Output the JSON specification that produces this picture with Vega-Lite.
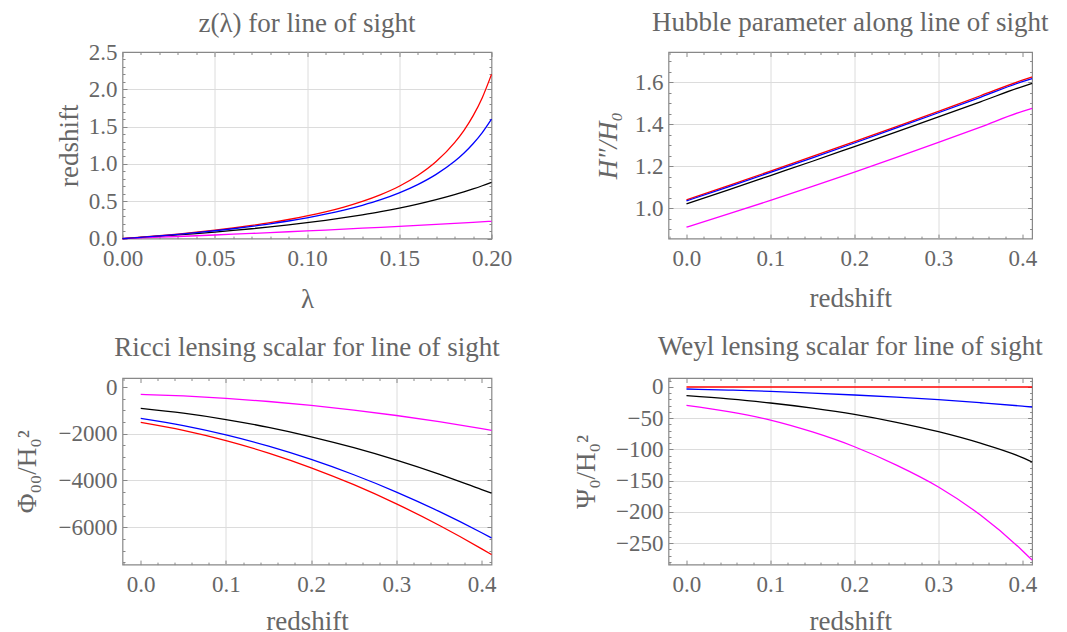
{
  "$schema": "https://vega.github.io/schema/vega-lite/v6.json",
  "background": "white",
  "padding": {"left": 12.5, "top": 8, "right": 10, "bottom": 6},
  "columns": 2,
  "spacing": {"row": 139, "column": 177},
  "bounds": "flush",
  "config": {
    "font": "Liberation Serif",
    "view": {"stroke": "#888888", "strokeWidth": 1.2},
    "axis": {
      "domain": false,
      "labelFont": "Liberation Serif",
      "labelFontSize": 23,
      "labelColor": "#666666",
      "labelFlush": false,
      "labelOverlap": false,
      "labelBound": false,
      "titleFont": "Liberation Serif",
      "titleFontSize": 27,
      "titleFontWeight": "normal",
      "titleColor": "#666666",
      "tickColor": "#888888",
      "tickWidth": 1,
      "gridWidth": 1
    },
    "title": {
      "font": "Liberation Serif",
      "fontSize": 27,
      "fontWeight": "normal",
      "color": "#666666",
      "anchor": "middle",
      "frame": "group",
      "baseline": "alphabetic",
      "offset": 21
    },
    "line": {"strokeWidth": 1.3, "interpolate": "monotone", "clip": true}
  },
  "datasets": {
    "zlambda": [
      {"series": "case 1", "lambda": 0, "z": 0}, {"series": "case 1", "lambda": 0.01, "z": 0.019}, {"series": "case 1", "lambda": 0.02, "z": 0.039}, {"series": "case 1", "lambda": 0.03, "z": 0.061}, {"series": "case 1", "lambda": 0.04, "z": 0.085}, {"series": "case 1", "lambda": 0.05, "z": 0.112}, {"series": "case 1", "lambda": 0.06, "z": 0.142}, {"series": "case 1", "lambda": 0.07, "z": 0.176}, {"series": "case 1", "lambda": 0.08, "z": 0.213}, {"series": "case 1", "lambda": 0.09, "z": 0.256}, {"series": "case 1", "lambda": 0.1, "z": 0.304}, {"series": "case 1", "lambda": 0.11, "z": 0.359}, {"series": "case 1", "lambda": 0.12, "z": 0.423}, {"series": "case 1", "lambda": 0.13, "z": 0.499}, {"series": "case 1", "lambda": 0.14, "z": 0.59}, {"series": "case 1", "lambda": 0.15, "z": 0.702}, {"series": "case 1", "lambda": 0.16, "z": 0.845}, {"series": "case 1", "lambda": 0.17, "z": 1.032}, {"series": "case 1", "lambda": 0.18, "z": 1.285}, {"series": "case 1", "lambda": 0.185, "z": 1.447}, {"series": "case 1", "lambda": 0.19, "z": 1.644}, {"series": "case 1", "lambda": 0.195, "z": 1.888}, {"series": "case 1", "lambda": 0.2, "z": 2.2},
      {"series": "case 2", "lambda": 0, "z": 0}, {"series": "case 2", "lambda": 0.01, "z": 0.0175}, {"series": "case 2", "lambda": 0.02, "z": 0.036}, {"series": "case 2", "lambda": 0.03, "z": 0.057}, {"series": "case 2", "lambda": 0.04, "z": 0.08}, {"series": "case 2", "lambda": 0.05, "z": 0.105}, {"series": "case 2", "lambda": 0.06, "z": 0.132}, {"series": "case 2", "lambda": 0.07, "z": 0.163}, {"series": "case 2", "lambda": 0.08, "z": 0.197}, {"series": "case 2", "lambda": 0.09, "z": 0.236}, {"series": "case 2", "lambda": 0.1, "z": 0.279}, {"series": "case 2", "lambda": 0.11, "z": 0.327}, {"series": "case 2", "lambda": 0.12, "z": 0.382}, {"series": "case 2", "lambda": 0.13, "z": 0.446}, {"series": "case 2", "lambda": 0.14, "z": 0.521}, {"series": "case 2", "lambda": 0.15, "z": 0.612}, {"series": "case 2", "lambda": 0.16, "z": 0.723}, {"series": "case 2", "lambda": 0.17, "z": 0.86}, {"series": "case 2", "lambda": 0.18, "z": 1.035}, {"series": "case 2", "lambda": 0.185, "z": 1.143}, {"series": "case 2", "lambda": 0.19, "z": 1.27}, {"series": "case 2", "lambda": 0.195, "z": 1.42}, {"series": "case 2", "lambda": 0.2, "z": 1.6},
      {"series": "case 3", "lambda": 0, "z": 0}, {"series": "case 3", "lambda": 0.01, "z": 0.0153}, {"series": "case 3", "lambda": 0.02, "z": 0.0317}, {"series": "case 3", "lambda": 0.03, "z": 0.049}, {"series": "case 3", "lambda": 0.04, "z": 0.0676}, {"series": "case 3", "lambda": 0.05, "z": 0.0875}, {"series": "case 3", "lambda": 0.06, "z": 0.109}, {"series": "case 3", "lambda": 0.07, "z": 0.132}, {"series": "case 3", "lambda": 0.08, "z": 0.157}, {"series": "case 3", "lambda": 0.09, "z": 0.184}, {"series": "case 3", "lambda": 0.1, "z": 0.213}, {"series": "case 3", "lambda": 0.11, "z": 0.245}, {"series": "case 3", "lambda": 0.12, "z": 0.28}, {"series": "case 3", "lambda": 0.13, "z": 0.319}, {"series": "case 3", "lambda": 0.14, "z": 0.361}, {"series": "case 3", "lambda": 0.15, "z": 0.408}, {"series": "case 3", "lambda": 0.16, "z": 0.461}, {"series": "case 3", "lambda": 0.17, "z": 0.521}, {"series": "case 3", "lambda": 0.18, "z": 0.588}, {"series": "case 3", "lambda": 0.185, "z": 0.625}, {"series": "case 3", "lambda": 0.19, "z": 0.665}, {"series": "case 3", "lambda": 0.195, "z": 0.708}, {"series": "case 3", "lambda": 0.2, "z": 0.754},
      {"series": "case 4", "lambda": 0, "z": 0}, {"series": "case 4", "lambda": 0.01, "z": 0.0091}, {"series": "case 4", "lambda": 0.02, "z": 0.0185}, {"series": "case 4", "lambda": 0.03, "z": 0.0282}, {"series": "case 4", "lambda": 0.04, "z": 0.0381}, {"series": "case 4", "lambda": 0.05, "z": 0.0483}, {"series": "case 4", "lambda": 0.06, "z": 0.0587}, {"series": "case 4", "lambda": 0.07, "z": 0.0694}, {"series": "case 4", "lambda": 0.08, "z": 0.0803}, {"series": "case 4", "lambda": 0.09, "z": 0.0915}, {"series": "case 4", "lambda": 0.1, "z": 0.103}, {"series": "case 4", "lambda": 0.11, "z": 0.1147}, {"series": "case 4", "lambda": 0.12, "z": 0.1267}, {"series": "case 4", "lambda": 0.13, "z": 0.139}, {"series": "case 4", "lambda": 0.14, "z": 0.1515}, {"series": "case 4", "lambda": 0.15, "z": 0.1643}, {"series": "case 4", "lambda": 0.16, "z": 0.1773}, {"series": "case 4", "lambda": 0.17, "z": 0.1906}, {"series": "case 4", "lambda": 0.18, "z": 0.2041}, {"series": "case 4", "lambda": 0.19, "z": 0.2179}, {"series": "case 4", "lambda": 0.2, "z": 0.232}
    ],
    "hubble": [
      {"series": "case 1", "redshift": 0, "H": 1.04}, {"series": "case 1", "redshift": 0.05, "H": 1.108}, {"series": "case 1", "redshift": 0.1, "H": 1.177}, {"series": "case 1", "redshift": 0.15, "H": 1.247}, {"series": "case 1", "redshift": 0.2, "H": 1.318}, {"series": "case 1", "redshift": 0.25, "H": 1.389}, {"series": "case 1", "redshift": 0.3, "H": 1.462}, {"series": "case 1", "redshift": 0.35, "H": 1.536}, {"series": "case 1", "redshift": 0.4, "H": 1.61}, {"series": "case 1", "redshift": 0.4115, "H": 1.625},
      {"series": "case 2", "redshift": 0, "H": 1.035}, {"series": "case 2", "redshift": 0.05, "H": 1.1025}, {"series": "case 2", "redshift": 0.1, "H": 1.171}, {"series": "case 2", "redshift": 0.15, "H": 1.2405}, {"series": "case 2", "redshift": 0.2, "H": 1.311}, {"series": "case 2", "redshift": 0.25, "H": 1.3825}, {"series": "case 2", "redshift": 0.3, "H": 1.455}, {"series": "case 2", "redshift": 0.35, "H": 1.5285}, {"series": "case 2", "redshift": 0.4, "H": 1.603}, {"series": "case 2", "redshift": 0.4115, "H": 1.617},
      {"series": "case 3", "redshift": 0, "H": 1.021}, {"series": "case 3", "redshift": 0.05, "H": 1.088}, {"series": "case 3", "redshift": 0.1, "H": 1.156}, {"series": "case 3", "redshift": 0.15, "H": 1.224}, {"series": "case 3", "redshift": 0.2, "H": 1.294}, {"series": "case 3", "redshift": 0.25, "H": 1.364}, {"series": "case 3", "redshift": 0.3, "H": 1.435}, {"series": "case 3", "redshift": 0.35, "H": 1.507}, {"series": "case 3", "redshift": 0.4, "H": 1.58}, {"series": "case 3", "redshift": 0.4115, "H": 1.595},
      {"series": "case 4", "redshift": 0, "H": 0.91}, {"series": "case 4", "redshift": 0.05, "H": 0.973}, {"series": "case 4", "redshift": 0.1, "H": 1.0375}, {"series": "case 4", "redshift": 0.15, "H": 1.104}, {"series": "case 4", "redshift": 0.2, "H": 1.172}, {"series": "case 4", "redshift": 0.25, "H": 1.242}, {"series": "case 4", "redshift": 0.3, "H": 1.3135}, {"series": "case 4", "redshift": 0.35, "H": 1.387}, {"series": "case 4", "redshift": 0.4, "H": 1.462}, {"series": "case 4", "redshift": 0.4115, "H": 1.476}
    ],
    "ricci": [
      {"series": "case 1", "redshift": 0, "Phi00": -1514}, {"series": "case 1", "redshift": 0.05, "Phi00": -1857}, {"series": "case 1", "redshift": 0.1, "Phi00": -2295}, {"series": "case 1", "redshift": 0.15, "Phi00": -2828}, {"series": "case 1", "redshift": 0.2, "Phi00": -3457}, {"series": "case 1", "redshift": 0.25, "Phi00": -4181}, {"series": "case 1", "redshift": 0.3, "Phi00": -5001}, {"series": "case 1", "redshift": 0.35, "Phi00": -5915}, {"series": "case 1", "redshift": 0.4, "Phi00": -6925}, {"series": "case 1", "redshift": 0.4115, "Phi00": -7171},
      {"series": "case 2", "redshift": 0, "Phi00": -1343}, {"series": "case 2", "redshift": 0.05, "Phi00": -1653}, {"series": "case 2", "redshift": 0.1, "Phi00": -2049}, {"series": "case 2", "redshift": 0.15, "Phi00": -2532}, {"series": "case 2", "redshift": 0.2, "Phi00": -3100}, {"series": "case 2", "redshift": 0.25, "Phi00": -3755}, {"series": "case 2", "redshift": 0.3, "Phi00": -4495}, {"series": "case 2", "redshift": 0.35, "Phi00": -5322}, {"series": "case 2", "redshift": 0.4, "Phi00": -6235}, {"series": "case 2", "redshift": 0.4115, "Phi00": -6457},
      {"series": "case 3", "redshift": 0, "Phi00": -914}, {"series": "case 3", "redshift": 0.05, "Phi00": -1120}, {"series": "case 3", "redshift": 0.1, "Phi00": -1391}, {"series": "case 3", "redshift": 0.15, "Phi00": -1727}, {"series": "case 3", "redshift": 0.2, "Phi00": -2129}, {"series": "case 3", "redshift": 0.25, "Phi00": -2596}, {"series": "case 3", "redshift": 0.3, "Phi00": -3128}, {"series": "case 3", "redshift": 0.35, "Phi00": -3726}, {"series": "case 3", "redshift": 0.4, "Phi00": -4389}, {"series": "case 3", "redshift": 0.4115, "Phi00": -4540},
      {"series": "case 4", "redshift": 0, "Phi00": -314}, {"series": "case 4", "redshift": 0.05, "Phi00": -383}, {"series": "case 4", "redshift": 0.1, "Phi00": -484}, {"series": "case 4", "redshift": 0.15, "Phi00": -619}, {"series": "case 4", "redshift": 0.2, "Phi00": -786}, {"series": "case 4", "redshift": 0.25, "Phi00": -986}, {"series": "case 4", "redshift": 0.3, "Phi00": -1219}, {"series": "case 4", "redshift": 0.35, "Phi00": -1485}, {"series": "case 4", "redshift": 0.4, "Phi00": -1784}, {"series": "case 4", "redshift": 0.4115, "Phi00": -1857}
    ],
    "weyl": [
      {"series": "case 1", "redshift": 0, "Psi0": 0}, {"series": "case 1", "redshift": 0.1, "Psi0": 0}, {"series": "case 1", "redshift": 0.2, "Psi0": 0}, {"series": "case 1", "redshift": 0.3, "Psi0": 0}, {"series": "case 1", "redshift": 0.4, "Psi0": 0}, {"series": "case 1", "redshift": 0.4115, "Psi0": 0},
      {"series": "case 2", "redshift": 0, "Psi0": -3.2}, {"series": "case 2", "redshift": 0.05, "Psi0": -4.9}, {"series": "case 2", "redshift": 0.1, "Psi0": -7}, {"series": "case 2", "redshift": 0.15, "Psi0": -9.7}, {"series": "case 2", "redshift": 0.2, "Psi0": -12.8}, {"series": "case 2", "redshift": 0.25, "Psi0": -16.3}, {"series": "case 2", "redshift": 0.3, "Psi0": -20.3}, {"series": "case 2", "redshift": 0.35, "Psi0": -25.2}, {"series": "case 2", "redshift": 0.4, "Psi0": -30.6}, {"series": "case 2", "redshift": 0.4115, "Psi0": -32},
      {"series": "case 3", "redshift": 0, "Psi0": -13.9}, {"series": "case 3", "redshift": 0.05, "Psi0": -19.1}, {"series": "case 3", "redshift": 0.1, "Psi0": -25.6}, {"series": "case 3", "redshift": 0.15, "Psi0": -33.8}, {"series": "case 3", "redshift": 0.2, "Psi0": -43.8}, {"series": "case 3", "redshift": 0.25, "Psi0": -56.5}, {"series": "case 3", "redshift": 0.3, "Psi0": -71.6}, {"series": "case 3", "redshift": 0.35, "Psi0": -90}, {"series": "case 3", "redshift": 0.4, "Psi0": -113}, {"series": "case 3", "redshift": 0.4115, "Psi0": -120},
      {"series": "case 4", "redshift": 0, "Psi0": -29.4}, {"series": "case 4", "redshift": 0.05, "Psi0": -39.5}, {"series": "case 4", "redshift": 0.1, "Psi0": -53}, {"series": "case 4", "redshift": 0.15, "Psi0": -72}, {"series": "case 4", "redshift": 0.2, "Psi0": -95.6}, {"series": "case 4", "redshift": 0.25, "Psi0": -125}, {"series": "case 4", "redshift": 0.3, "Psi0": -160}, {"series": "case 4", "redshift": 0.35, "Psi0": -205}, {"series": "case 4", "redshift": 0.4, "Psi0": -262}, {"series": "case 4", "redshift": 0.4115, "Psi0": -277}
    ]
  },
  "concat": [
    {
      "title": {"text": "z(λ) for line of sight", "offset": 3.5},
      "width": 369,
      "height": 186.6,
      "data": {"name": "zlambda"},
      "resolve": {"axis": {"x": "independent", "y": "independent"}},
      "layer": [
        {
          "transform": [{"filter": "datum.series === 'case 3' || datum.series === 'case 4'"}],
          "mark": "line",
          "encoding": {
            "x": {"field": "lambda", "type": "quantitative", "scale": {"domain": [0, 0.2], "nice": false, "zero": false},
              "axis": {"orient": "bottom", "values": [0, 0.01, 0.02, 0.03, 0.04, 0.05, 0.06, 0.07, 0.08, 0.09, 0.1, 0.11, 0.12, 0.13, 0.14, 0.15, 0.16, 0.17, 0.18, 0.19, 0.2],
                "tickSize": {"condition": {"test": "abs(datum.value*20-round(datum.value*20))<1e-6", "value": -4.5}, "value": -2.5},
                "labelExpr": "abs(datum.value*20-round(datum.value*20))<1e-6 ? format(datum.value, '.2f') : ''",
                "labelPadding": 13.5,
                "grid": true,
                "gridColor": {"condition": {"test": "abs(datum.value*20-round(datum.value*20))<1e-6 && datum.value>0.001 && datum.value<0.199", "value": "#dcdcdc"}, "value": "transparent"},
                "title": "λ", "titleY": 68.7, "titleBaseline": "alphabetic"}},
            "y": {"field": "z", "type": "quantitative", "scale": {"domain": [0, 2.5], "nice": false, "zero": false},
              "axis": {"orient": "left", "values": [0, 0.1, 0.2, 0.3, 0.4, 0.5, 0.6, 0.7, 0.8, 0.9, 1, 1.1, 1.2, 1.3, 1.4, 1.5, 1.6, 1.7, 1.8, 1.9, 2, 2.1, 2.2, 2.3, 2.4, 2.5],
                "tickSize": {"condition": {"test": "abs(datum.value*2-round(datum.value*2))<1e-6", "value": -4.5}, "value": -2.5},
                "labelExpr": "abs(datum.value*2-round(datum.value*2))<1e-6 ? format(datum.value, '.1f') : ''",
                "labelPadding": 10,
                "grid": true,
                "gridColor": {"condition": {"test": "abs(datum.value*2-round(datum.value*2))<1e-6 && datum.value>0.01 && datum.value<2.49", "value": "#dcdcdc"}, "value": "transparent"},
                "title": "redshift", "titleX": -45, "titleBaseline": "alphabetic"}},
            "color": {"field": "series", "type": "nominal", "scale": {"domain": ["case 1", "case 2", "case 3", "case 4"], "range": ["#ff0000", "#0000ff", "#000000", "#ff00ff"]}, "legend": null}
          }
        },
        {
          "transform": [{"filter": "datum.series === 'case 1' || datum.series === 'case 2'"}],
          "mark": "line",
          "encoding": {
            "x": {"field": "lambda", "type": "quantitative", "scale": {"domain": [0, 0.2], "nice": false, "zero": false},
              "axis": {"orient": "top", "values": [0, 0.01, 0.02, 0.03, 0.04, 0.05, 0.06, 0.07, 0.08, 0.09, 0.1, 0.11, 0.12, 0.13, 0.14, 0.15, 0.16, 0.17, 0.18, 0.19, 0.2],
                "tickSize": {"condition": {"test": "abs(datum.value*20-round(datum.value*20))<1e-6", "value": -4.5}, "value": -2.5},
                "labels": false, "grid": false, "title": null}},
            "y": {"field": "z", "type": "quantitative", "scale": {"domain": [0, 2.5], "nice": false, "zero": false},
              "axis": {"orient": "right", "values": [0, 0.1, 0.2, 0.3, 0.4, 0.5, 0.6, 0.7, 0.8, 0.9, 1, 1.1, 1.2, 1.3, 1.4, 1.5, 1.6, 1.7, 1.8, 1.9, 2, 2.1, 2.2, 2.3, 2.4, 2.5],
                "tickSize": {"condition": {"test": "abs(datum.value*2-round(datum.value*2))<1e-6", "value": -4.5}, "value": -2.5},
                "labels": false, "grid": false, "title": null}},
            "color": {"field": "series", "type": "nominal", "scale": {"domain": ["case 1", "case 2", "case 3", "case 4"], "range": ["#ff0000", "#0000ff", "#000000", "#ff00ff"]}, "legend": null}
          }
        }
      ]
    },
    {
      "title": {"text": "Hubble parameter along line of sight", "offset": 13},
      "width": 363.6,
      "height": 186.6,
      "data": {"name": "hubble"},
      "resolve": {"axis": {"x": "independent", "y": "independent"}},
      "layer": [
        {
          "transform": [{"filter": "datum.series === 'case 3' || datum.series === 'case 4'"}],
          "mark": "line",
          "encoding": {
            "x": {"field": "redshift", "type": "quantitative", "scale": {"domain": [-0.0214, 0.4115], "nice": false, "zero": false},
              "axis": {"orient": "bottom", "values": [-0.02, 0, 0.02, 0.04, 0.06, 0.08, 0.1, 0.12, 0.14, 0.16, 0.18, 0.2, 0.22, 0.24, 0.26, 0.28, 0.3, 0.32, 0.34, 0.36, 0.38, 0.4],
                "tickSize": {"condition": {"test": "abs(datum.value*10-round(datum.value*10))<1e-6", "value": -4.5}, "value": -2.5},
                "labelExpr": "abs(datum.value*10-round(datum.value*10))<1e-6 ? format(datum.value, '.1f') : ''",
                "labelPadding": 13.5,
                "grid": true,
                "gridColor": {"condition": {"test": "abs(datum.value*10-round(datum.value*10))<1e-6 && datum.value>0.05 && datum.value<0.35", "value": "#dcdcdc"}, "value": "transparent"},
                "title": "redshift", "titleY": 67.7, "titleBaseline": "alphabetic"}},
            "y": {"field": "H", "type": "quantitative", "scale": {"domain": [0.8556, 1.7444], "nice": false, "zero": false},
              "axis": {"orient": "left", "values": [0.9, 0.95, 1, 1.05, 1.1, 1.15, 1.2, 1.25, 1.3, 1.35, 1.4, 1.45, 1.5, 1.55, 1.6, 1.65, 1.7],
                "tickSize": {"condition": {"test": "abs(datum.value*5-round(datum.value*5))<1e-6", "value": -4.5}, "value": -2.5},
                "labelExpr": "abs(datum.value*5-round(datum.value*5))<1e-6 ? format(datum.value, '.1f') : ''",
                "labelPadding": 10,
                "grid": true,
                "gridColor": {"condition": {"test": "abs(datum.value*5-round(datum.value*5))<1e-6", "value": "#dcdcdc"}, "value": "transparent"},
                "title": "H″/H₀", "titleFontStyle": "italic", "titleX": -52, "titleBaseline": "alphabetic"}},
            "color": {"field": "series", "type": "nominal", "scale": {"domain": ["case 1", "case 2", "case 3", "case 4"], "range": ["#ff0000", "#0000ff", "#000000", "#ff00ff"]}, "legend": null}
          }
        },
        {
          "transform": [{"filter": "datum.series === 'case 1' || datum.series === 'case 2'"}],
          "mark": "line",
          "encoding": {
            "x": {"field": "redshift", "type": "quantitative", "scale": {"domain": [-0.0214, 0.4115], "nice": false, "zero": false},
              "axis": {"orient": "top", "values": [-0.02, 0, 0.02, 0.04, 0.06, 0.08, 0.1, 0.12, 0.14, 0.16, 0.18, 0.2, 0.22, 0.24, 0.26, 0.28, 0.3, 0.32, 0.34, 0.36, 0.38, 0.4],
                "tickSize": {"condition": {"test": "abs(datum.value*10-round(datum.value*10))<1e-6", "value": -4.5}, "value": -2.5},
                "labels": false, "grid": false, "title": null}},
            "y": {"field": "H", "type": "quantitative", "scale": {"domain": [0.8556, 1.7444], "nice": false, "zero": false},
              "axis": {"orient": "right", "values": [0.9, 0.95, 1, 1.05, 1.1, 1.15, 1.2, 1.25, 1.3, 1.35, 1.4, 1.45, 1.5, 1.55, 1.6, 1.65, 1.7],
                "tickSize": {"condition": {"test": "abs(datum.value*5-round(datum.value*5))<1e-6", "value": -4.5}, "value": -2.5},
                "labels": false, "grid": false, "title": null}},
            "color": {"field": "series", "type": "nominal", "scale": {"domain": ["case 1", "case 2", "case 3", "case 4"], "range": ["#ff0000", "#0000ff", "#000000", "#ff00ff"]}, "legend": null}
          }
        }
      ]
    },
    {
      "title": {"text": "Ricci lensing scalar for line of sight", "offset": 14},
      "width": 369,
      "height": 186.6,
      "data": {"name": "ricci"},
      "resolve": {"axis": {"x": "independent", "y": "independent"}},
      "layer": [
        {
          "transform": [{"filter": "datum.series === 'case 3' || datum.series === 'case 4'"}],
          "mark": "line",
          "encoding": {
            "x": {"field": "redshift", "type": "quantitative", "scale": {"domain": [-0.0214, 0.4115], "nice": false, "zero": false},
              "axis": {"orient": "bottom", "values": [-0.02, 0, 0.02, 0.04, 0.06, 0.08, 0.1, 0.12, 0.14, 0.16, 0.18, 0.2, 0.22, 0.24, 0.26, 0.28, 0.3, 0.32, 0.34, 0.36, 0.38, 0.4],
                "tickSize": {"condition": {"test": "abs(datum.value*10-round(datum.value*10))<1e-6", "value": -4.5}, "value": -2.5},
                "labelExpr": "abs(datum.value*10-round(datum.value*10))<1e-6 ? format(datum.value, '.1f') : ''",
                "labelPadding": 13.5,
                "grid": true,
                "gridColor": {"condition": {"test": "abs(datum.value*10-round(datum.value*10))<1e-6 && datum.value>0.05 && datum.value<0.35", "value": "#dcdcdc"}, "value": "transparent"},
                "title": "redshift", "titleY": 65, "titleBaseline": "alphabetic"}},
            "y": {"field": "Phi00", "type": "quantitative", "scale": {"domain": [-7600, 386], "nice": false, "zero": false},
              "axis": {"orient": "left", "values": [-7500, -7000, -6500, -6000, -5500, -5000, -4500, -4000, -3500, -3000, -2500, -2000, -1500, -1000, -500, 0],
                "tickSize": {"condition": {"test": "abs(datum.value/2000-round(datum.value/2000))<1e-6", "value": -4.5}, "value": -2.5},
                "labelExpr": "abs(datum.value/2000-round(datum.value/2000))<1e-6 ? format(datum.value, 'd') : ''",
                "labelPadding": 10,
                "grid": true,
                "gridColor": {"condition": {"test": "abs(datum.value/2000-round(datum.value/2000))<1e-6 && datum.value<-1", "value": "#dcdcdc"}, "value": "transparent"},
                "title": "Φ₀₀/H₀²", "titleX": -86.7, "titleBaseline": "alphabetic"}},
            "color": {"field": "series", "type": "nominal", "scale": {"domain": ["case 1", "case 2", "case 3", "case 4"], "range": ["#ff0000", "#0000ff", "#000000", "#ff00ff"]}, "legend": null}
          }
        },
        {
          "transform": [{"filter": "datum.series === 'case 1' || datum.series === 'case 2'"}],
          "mark": "line",
          "encoding": {
            "x": {"field": "redshift", "type": "quantitative", "scale": {"domain": [-0.0214, 0.4115], "nice": false, "zero": false},
              "axis": {"orient": "top", "values": [-0.02, 0, 0.02, 0.04, 0.06, 0.08, 0.1, 0.12, 0.14, 0.16, 0.18, 0.2, 0.22, 0.24, 0.26, 0.28, 0.3, 0.32, 0.34, 0.36, 0.38, 0.4],
                "tickSize": {"condition": {"test": "abs(datum.value*10-round(datum.value*10))<1e-6", "value": -4.5}, "value": -2.5},
                "labels": false, "grid": false, "title": null}},
            "y": {"field": "Phi00", "type": "quantitative", "scale": {"domain": [-7600, 386], "nice": false, "zero": false},
              "axis": {"orient": "right", "values": [-7500, -7000, -6500, -6000, -5500, -5000, -4500, -4000, -3500, -3000, -2500, -2000, -1500, -1000, -500, 0],
                "tickSize": {"condition": {"test": "abs(datum.value/2000-round(datum.value/2000))<1e-6", "value": -4.5}, "value": -2.5},
                "labels": false, "grid": false, "title": null}},
            "color": {"field": "series", "type": "nominal", "scale": {"domain": ["case 1", "case 2", "case 3", "case 4"], "range": ["#ff0000", "#0000ff", "#000000", "#ff00ff"]}, "legend": null}
          }
        }
      ]
    },
    {
      "title": {"text": "Weyl lensing scalar for line of sight", "offset": 9},
      "width": 363.6,
      "height": 186.6,
      "data": {"name": "weyl"},
      "resolve": {"axis": {"x": "independent", "y": "independent"}},
      "layer": [
        {
          "transform": [{"filter": "datum.series === 'case 3' || datum.series === 'case 4'"}],
          "mark": "line",
          "encoding": {
            "x": {"field": "redshift", "type": "quantitative", "scale": {"domain": [-0.0214, 0.4115], "nice": false, "zero": false},
              "axis": {"orient": "bottom", "values": [-0.02, 0, 0.02, 0.04, 0.06, 0.08, 0.1, 0.12, 0.14, 0.16, 0.18, 0.2, 0.22, 0.24, 0.26, 0.28, 0.3, 0.32, 0.34, 0.36, 0.38, 0.4],
                "tickSize": {"condition": {"test": "abs(datum.value*10-round(datum.value*10))<1e-6", "value": -4.5}, "value": -2.5},
                "labelExpr": "abs(datum.value*10-round(datum.value*10))<1e-6 ? format(datum.value, '.1f') : ''",
                "labelPadding": 13.5,
                "grid": true,
                "gridColor": {"condition": {"test": "abs(datum.value*10-round(datum.value*10))<1e-6 && datum.value>0.05 && datum.value<0.35", "value": "#dcdcdc"}, "value": "transparent"},
                "title": "redshift", "titleY": 65, "titleBaseline": "alphabetic"}},
            "y": {"field": "Psi0", "type": "quantitative", "scale": {"domain": [-284.2, 14.4], "nice": false, "zero": false},
              "axis": {"orient": "left", "values": [-280, -270, -260, -250, -240, -230, -220, -210, -200, -190, -180, -170, -160, -150, -140, -130, -120, -110, -100, -90, -80, -70, -60, -50, -40, -30, -20, -10, 0, 10],
                "tickSize": {"condition": {"test": "abs(datum.value/50-round(datum.value/50))<1e-6", "value": -4.5}, "value": -2.5},
                "labelExpr": "abs(datum.value/50-round(datum.value/50))<1e-6 ? format(datum.value, 'd') : ''",
                "labelPadding": 10,
                "grid": true,
                "gridColor": {"condition": {"test": "abs(datum.value/50-round(datum.value/50))<1e-6 && datum.value<-1", "value": "#dcdcdc"}, "value": "transparent"},
                "title": "Ψ₀/H₀²", "titleX": -74, "titleBaseline": "alphabetic"}},
            "color": {"field": "series", "type": "nominal", "scale": {"domain": ["case 1", "case 2", "case 3", "case 4"], "range": ["#ff0000", "#0000ff", "#000000", "#ff00ff"]}, "legend": null}
          }
        },
        {
          "transform": [{"filter": "datum.series === 'case 1' || datum.series === 'case 2'"}],
          "mark": "line",
          "encoding": {
            "x": {"field": "redshift", "type": "quantitative", "scale": {"domain": [-0.0214, 0.4115], "nice": false, "zero": false},
              "axis": {"orient": "top", "values": [-0.02, 0, 0.02, 0.04, 0.06, 0.08, 0.1, 0.12, 0.14, 0.16, 0.18, 0.2, 0.22, 0.24, 0.26, 0.28, 0.3, 0.32, 0.34, 0.36, 0.38, 0.4],
                "tickSize": {"condition": {"test": "abs(datum.value*10-round(datum.value*10))<1e-6", "value": -4.5}, "value": -2.5},
                "labels": false, "grid": false, "title": null}},
            "y": {"field": "Psi0", "type": "quantitative", "scale": {"domain": [-284.2, 14.4], "nice": false, "zero": false},
              "axis": {"orient": "right", "values": [-280, -270, -260, -250, -240, -230, -220, -210, -200, -190, -180, -170, -160, -150, -140, -130, -120, -110, -100, -90, -80, -70, -60, -50, -40, -30, -20, -10, 0, 10],
                "tickSize": {"condition": {"test": "abs(datum.value/50-round(datum.value/50))<1e-6", "value": -4.5}, "value": -2.5},
                "labels": false, "grid": false, "title": null}},
            "color": {"field": "series", "type": "nominal", "scale": {"domain": ["case 1", "case 2", "case 3", "case 4"], "range": ["#ff0000", "#0000ff", "#000000", "#ff00ff"]}, "legend": null}
          }
        }
      ]
    }
  ]
}
